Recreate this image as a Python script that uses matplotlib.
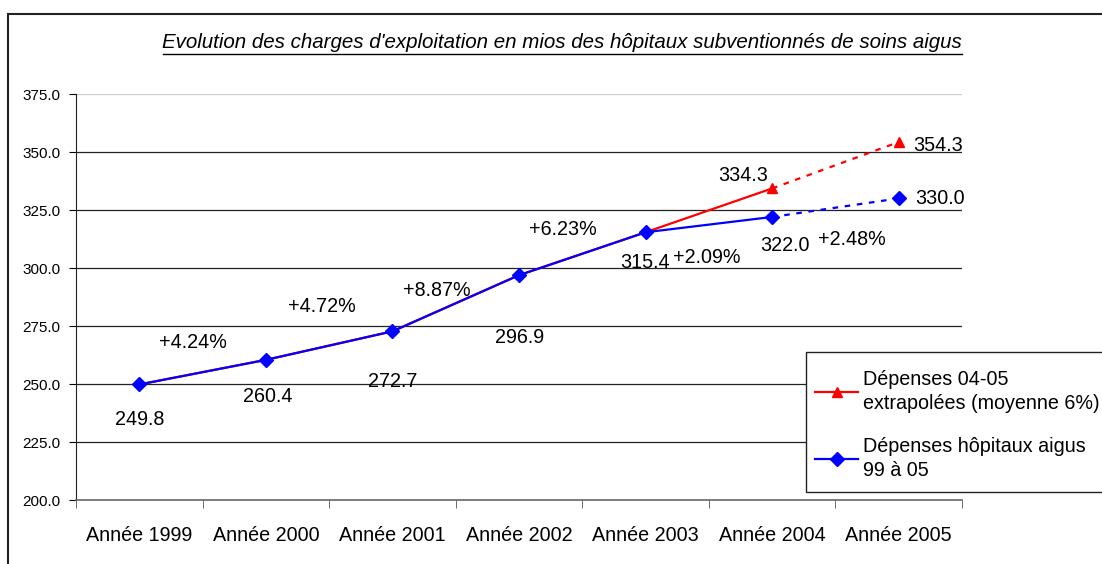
import numpy as np
import matplotlib.pyplot as plt
from matplotlib.patches import Rectangle
from matplotlib.lines import Line2D

plt.rcParams['font.family'] = ['Liberation Sans', 'DejaVu Sans']

# data
years = ['Année 1999', 'Année 2000', 'Année 2001', 'Année 2002',
         'Année 2003', 'Année 2004', 'Année 2005']
depenses = [249.8, 260.4, 272.7, 296.9, 315.4, 322.0, 330.0]
extrapolees = [249.8, 260.4, 272.7, 296.9, 315.4, 334.3, 354.3]
title = "Evolution des charges d'exploitation en mios des hôpitaux subventionnés de soins aigus"
label_red = 'Dépenses 04-05\nextrapolées (moyenne 6%)'
label_blue = 'Dépenses hôpitaux aigus\n99 à 05'

# layout of the text labels (pixel offsets from points)
blue_offsets = [(0, -35), (2, -37), (0, -50), (1, -62), (-1, -30), (13, -29), (41, 0)]
red_offsets = {5: (-29, 13), 6: (39, -3)}
pct_pos = [(0.42, 268.1), (1.44, 283.2), (2.35, 290.5), (3.35, 316.4),
           (4.48, 304.7), (5.63, 312.1)]

W, H = 1102, 564
fig = plt.figure(figsize=(W / 100, H / 100), dpi=100)
ax = fig.add_axes([76 / W, 1 - 500 / H, (962 - 76) / W, (500 - 94) / H])

x = np.arange(len(years))
red, blue = '#FF0000', '#0000FF'
lw = 1.6
fs = 14.2

# red series (hidden under blue up to 2003)
ax.plot(x[:6], extrapolees[:6], color=red, lw=lw, zorder=3)
ax.plot(x[5:], extrapolees[5:], color=red, lw=lw, ls=(0, (2.5, 3)), zorder=3)
ax.plot(x[5:], extrapolees[5:], color=red, lw=0, marker='^', ms=7, zorder=3)
# blue series
ax.plot(x[:6], depenses[:6], color=blue, lw=lw, marker='D', ms=7, zorder=4)
ax.plot(x[5:], depenses[5:], color=blue, lw=lw, ls=(0, (2.5, 3)), zorder=4)
ax.plot(x[6:], depenses[6:], color=blue, lw=0, marker='D', ms=7, zorder=4)

for i, v in enumerate(depenses):
    ax.annotate(f'{v:.1f}', (x[i], v), xytext=blue_offsets[i], textcoords='offset pixels',
                ha='center', va='center', fontsize=fs, annotation_clip=False)
for i, off in red_offsets.items():
    ax.annotate(f'{extrapolees[i]:.1f}', (x[i], extrapolees[i]), xytext=off,
                textcoords='offset pixels', ha='center', va='center', fontsize=fs,
                annotation_clip=False)

growth = [(depenses[i + 1] / depenses[i] - 1) * 100 for i in range(len(depenses) - 1)]
for g, (px, py) in zip(growth, pct_pos):
    ax.text(px, py, f'+{g:.2f}%', ha='center', va='center', fontsize=fs)

ax.set_xlim(-0.5, len(years) - 0.5)
ax.set_ylim(200, 375)
ax.set_yticks(np.arange(200, 376, 25))
ax.set_yticklabels([f'{t:.1f}' for t in np.arange(200, 376, 25)], fontsize=11)
ax.set_xticks(x)
ax.set_xticklabels(years, fontsize=fs)
ax.set_xticks(np.arange(-0.5, len(years), 1), minor=True)
ax.tick_params(axis='x', which='major', length=0, pad=19)
ax.tick_params(axis='x', which='minor', length=6, direction='out', color='#555555')
ax.tick_params(axis='y', length=5, direction='out', pad=6)

for t in np.arange(225, 351, 25):
    ax.axhline(t, color='#222222', lw=0.9, zorder=1)
ax.axhline(375, color='#cccccc', lw=0.9, zorder=1)

for s in ['top', 'right']:
    ax.spines[s].set_visible(False)
ax.spines['left'].set_color('#222222')
ax.spines['bottom'].set_color('#666666')
ax.spines['bottom'].set_linewidth(1.2)

# title with underline
fig.text(562 / W, 1 - 43 / H, title, ha='center', va='center', fontsize=14.8, style='italic')
fig.add_artist(Line2D([163 / W, 962 / W], [1 - 54 / H, 1 - 54 / H], color='black', lw=1.0))

# outer chart frame
fig.add_artist(Rectangle((8 / W, -0.1), 1.2, 1 - 14 / H + 0.1, fill=False,
                         edgecolor='#222222', lw=1.5, transform=fig.transFigure))

# legend: frame drawn separately so it can run past the right edge
fig.add_artist(Rectangle((806 / W, 1 - 492 / H), 0.3, (492 - 352) / H, facecolor='white',
                         edgecolor='#222222', lw=1.0, transform=fig.transFigure, zorder=5))
handles = [Line2D([], [], color=red, lw=lw, marker='^', ms=7),
           Line2D([], [], color=blue, lw=lw, marker='D', ms=7)]
leg = fig.legend(handles, [label_red, label_blue], loc='upper left',
                 bbox_to_anchor=(815 / W, 1 - 370 / H), borderaxespad=0,
                 fontsize=fs, handlelength=2.2, handletextpad=0.25,
                 labelspacing=1.2, borderpad=0, frameon=False)
leg.set_zorder(6)
for t in leg.get_texts():
    t.set_linespacing(1.35)

fig.savefig('out.png', dpi=100)
